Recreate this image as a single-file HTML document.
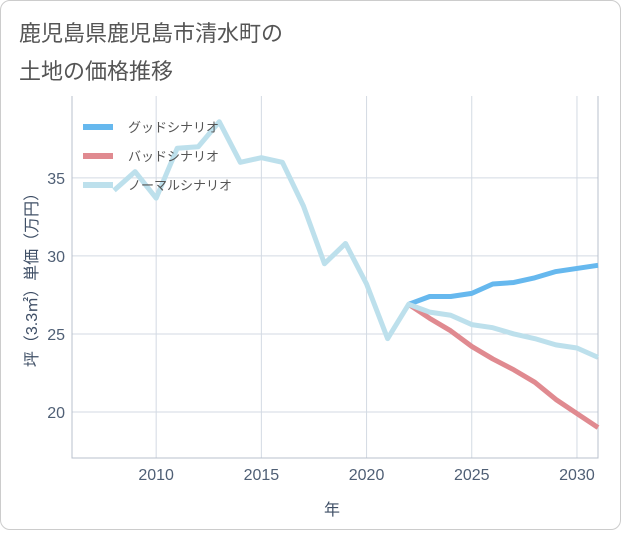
<!DOCTYPE html>
<html><head><meta charset="utf-8"><style>
body{margin:0;background:#fff;font-family:"Liberation Sans","Noto Sans CJK JP",sans-serif}
#card{position:absolute;left:0;top:0;width:619px;height:528px;border:1px solid #ccc;border-radius:10px;background:#fff}
</style></head><body>
<div id="card">
<svg width="621" height="530">
<text x="18" y="40" font-size="22" fill="#555">鹿児島県鹿児島市清水町の</text>
<text x="18" y="78" font-size="22" fill="#555">土地の価格推移</text>
<g id="grid"></g><g id="lines"></g><g id="legend"></g>
<text x="331" y="514" font-size="16" fill="#3f4f66" text-anchor="middle">年</text>
<text transform="translate(36,275) rotate(-90)" font-size="16" fill="#3f4f66" text-anchor="middle">坪（3.3㎡）単価（万円）</text>
</svg></div>
<script>
const years=[2008,2009,2010,2011,2012,2013,2014,2015,2016,2017,2018,2019,2020,2021,2022,2023,2024,2025,2026,2027,2028,2029,2030,2031];
const normal=[34.2,35.4,33.7,36.9,37.0,38.6,36.0,36.3,36.0,33.2,29.5,30.8,28.2,24.7,26.9,26.4,26.2,25.6,25.4,25.0,24.7,24.3,24.1,23.5];
const goodYears=[2022,2023,2024,2025,2026,2027,2028,2029,2030,2031];
const good=[26.9,27.4,27.4,27.6,28.2,28.3,28.6,29.0,29.2,29.4];
const bad=[26.9,26.0,25.2,24.2,23.4,22.7,21.9,20.8,19.9,19.0];
const xTicks=[2010,2015,2020,2025,2030];
const yTicks=[20,25,30,35];
const X0=71,X1=597,Y0=95,Y1=457,XMIN=2006,XMAX=2031,YMIN=17.05,YMAX=40.25;
const xs=v=>X0+(v-XMIN)/(XMAX-XMIN)*(X1-X0);
const ys=v=>Y1-(v-YMIN)/(YMAX-YMIN)*(Y1-Y0);
const NS="http://www.w3.org/2000/svg";
function mk(p,t,a){const e=document.createElementNS(NS,t);for(const k in a)e.setAttribute(k,a[k]);p.appendChild(e);return e;}
const g=document.getElementById('grid');
xTicks.forEach(t=>{const l=mk(g,'line',{x1:xs(t),x2:xs(t),y1:Y0,y2:Y1,stroke:'#d3dae3'});


const tx=mk(g,'text',{x:xs(t),y:Y1+22,'font-size':16,fill:'#4f5f75','text-anchor':'middle'});tx.textContent=t;

});
yTicks.forEach(t=>{const l=mk(g,'line',{x1:X0,x2:X1,y1:ys(t),y2:ys(t),stroke:'#d3dae3'});


const tx=mk(g,'text',{x:X0-7,y:ys(t)+6,'font-size':16,fill:'#4f5f75','text-anchor':'end'});tx.textContent=t;

});
const ax=mk(g,'path',{d:`M${X0},${Y0}V${Y1}H${X1}V${Y0}`,fill:'none',stroke:'#b8c0cc'});


const L=document.getElementById('lines');
function line(xv,yv,c,name){const p=mk(L,'polyline',{points:xv.map((x,i)=>xs(x)+','+ys(yv[i])).join(' '),fill:'none',stroke:c,'stroke-width':5,'stroke-linejoin':'round'});

}
line(goodYears,bad,'#e08a90','bad-scenario-line');
line(goodYears,good,'#66b8ee','good-scenario-line');
line(years,normal,'#bde0ec','normal-scenario-line');
const lg=document.getElementById('legend');
[['グッドシナリオ','#66b8ee'],['バッドシナリオ','#e08a90'],['ノーマルシナリオ','#bde0ec']].forEach((d,i)=>{
const y=126+i*29;
const s=mk(lg,'line',{x1:82,x2:112,y1:y,y2:y,stroke:d[1],'stroke-width':6});


const t=mk(lg,'text',{x:127,y:y+5,'font-size':13,fill:'#555'});t.textContent=d[0];

});
</script></body></html>
